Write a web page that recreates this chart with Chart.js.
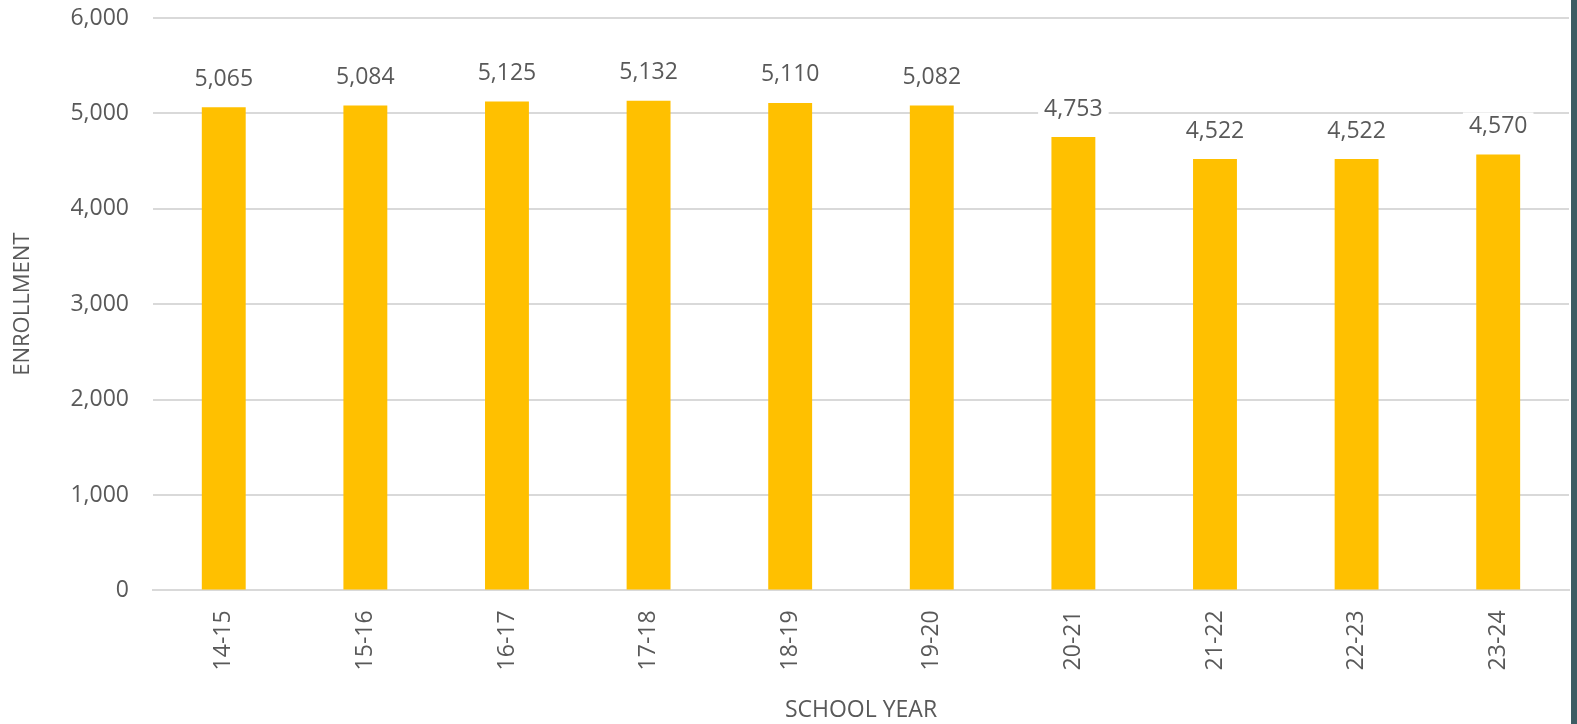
<!DOCTYPE html>
<html>
  <head>
    <title>Enrollment by School Year</title>
    <script src="https://cdn.jsdelivr.net/npm/chart.js@4.4.1/dist/chart.umd.min.js"></script>
    <style>
      html, body { margin: 0; padding: 0; overflow: hidden; }
      body { background: #3d5c63; }
      #container { position: absolute; left: 0; top: 0; width: 1571px; height: 724px; background: #ffffff; }
      canvas { display: block; }
    </style>
  </head>
  <body>
    <div id="container">
      <canvas id="canvas"></canvas>
    </div>
    <script>
      const schoolYears = ['14-15', '15-16', '16-17', '17-18', '18-19', '19-20', '20-21', '21-22', '22-23', '23-24'];
      const enrollment = [5065, 5084, 5125, 5132, 5110, 5082, 4753, 4522, 4522, 4570];

      const FONT = '"Open Sans", Lato, sans-serif';
      const TEXT = '#595959';

      // value labels above each bar, on a white box that hides the gridline
      const valueLabels = {
        id: 'valueLabels',
        afterDatasetsDraw(chart) {
          const ctx = chart.ctx;
          const meta = chart.getDatasetMeta(0);
          ctx.save();
          ctx.font = '23px ' + FONT;
          ctx.textAlign = 'center';
          ctx.textBaseline = 'middle';
          meta.data.forEach((bar, i) => {
            const txt = enrollment[i].toLocaleString('en-US');
            const y = bar.y - 28;
            const w = ctx.measureText(txt).width + 12;
            ctx.fillStyle = '#ffffff';
            ctx.fillRect(bar.x - w / 2, y - 14, w, 28);
            ctx.fillStyle = TEXT;
            ctx.fillText(txt, bar.x, y);
          });
          ctx.restore();
        }
      };

      new Chart(document.getElementById('canvas').getContext('2d'), {
        type: 'bar',
        data: {
          labels: schoolYears,
          datasets: [{
            label: 'Enrollment',
            data: enrollment,
            backgroundColor: '#ffc000',
            barPercentage: 0.31,
            categoryPercentage: 1.0
          }]
        },
        options: {
          responsive: true,
          maintainAspectRatio: false,
          animation: false,
          layout: { padding: { top: 0, right: 2, left: 10, bottom: 0 } },
          plugins: {
            legend: { display: false },
            tooltip: { enabled: false }
          },
          scales: {
            x: {
              grid: { display: false },
              border: { color: '#d9d9d9', width: 2 },
              ticks: {
                color: TEXT,
                font: { family: FONT, size: 23 },
                minRotation: 90,
                maxRotation: 90,
                padding: 12
              },
              title: {
                display: true,
                text: 'SCHOOL YEAR',
                color: TEXT,
                font: { family: FONT, size: 23 },
                padding: { top: 14, bottom: 0 }
              }
            },
            y: {
              min: 0,
              max: 6000,
              ticks: {
                stepSize: 1000,
                color: TEXT,
                font: { family: FONT, size: 23 },
                padding: 24,
                callback: v => v.toLocaleString('en-US')
              },
              // tick padding also pads the top; keep the plot near the top edge
              afterFit: scale => { scale.paddingTop = 18; },
              grid: { color: '#d9d9d9', lineWidth: 2, drawTicks: false },
              border: { display: false },
              title: {
                display: true,
                text: 'ENROLLMENT',
                color: TEXT,
                font: { family: FONT, size: 22 },
                padding: { top: 0, bottom: 10 }
              }
            }
          }
        },
        plugins: [valueLabels]
      });
    </script>
  </body>
</html>
